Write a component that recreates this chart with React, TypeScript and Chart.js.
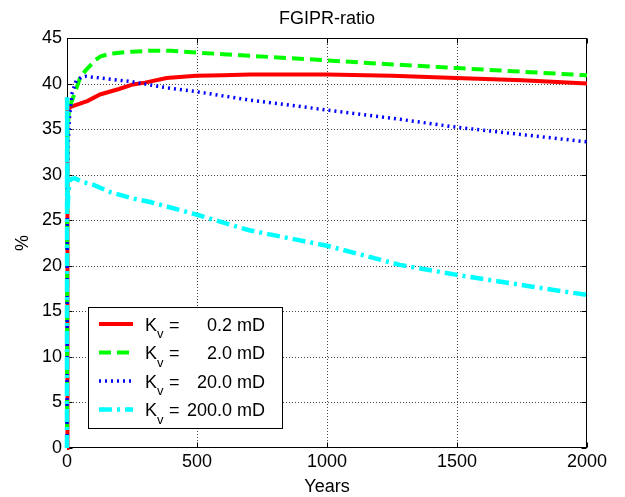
import React, { useEffect, useRef } from "react";
import { Chart, registerables } from "chart.js";

Chart.register(...registerables);

const TITLE = "FGIPR-ratio";
const X_LABEL = "Years";
const Y_LABEL = "%";

const tRed = [0, 0.5, 3, 12, 30, 50, 80, 127, 200, 254, 300, 383, 496, 600, 704, 850, 1000, 1250, 1496, 1750, 2000];
const vRed = [0, 30, 37, 37.4, 37.6, 37.8, 38.1, 38.8, 39.4, 39.9, 40.1, 40.6, 40.85, 40.9, 41.0, 41.0, 41.0, 40.85, 40.6, 40.35, 40.0];

const tGreen = [0, 1, 6, 15, 30, 50, 70, 90, 110, 130, 170, 250, 320, 400, 500, 700, 1000, 1250, 1500, 1750, 2000];
const vGreen = [0, 34, 36.5, 37.8, 39, 40.6, 41.4, 42.0, 42.6, 43.0, 43.3, 43.5, 43.6, 43.6, 43.4, 43.05, 42.55, 42.1, 41.7, 41.3, 40.9];

const tBlue = [0, 1, 4, 10, 20, 35, 55, 70, 100, 130, 250, 380, 500, 700, 1000, 1250, 1500, 1750, 2000];
const vBlue = [0, 30, 33, 36.5, 39, 40.3, 40.7, 40.8, 40.7, 40.6, 40.2, 39.55, 39.1, 38.2, 37.1, 36.2, 35.2, 34.4, 33.6];

const tCyan = [0, 0.5, 2, 5, 12, 30, 60, 100, 165, 250, 320, 500, 700, 1000, 1280, 1500, 1790, 2000];
const vCyan = [0, 38.5, 26, 28, 29.5, 29.6, 29.2, 28.9, 28.1, 27.4, 27.0, 25.6, 23.9, 22.2, 20.1, 19.0, 17.7, 16.8];

const legendValues = ["0.2 mD", "2.0 mD", "20.0 mD", "200.0 mD"];

const X_MIN = 0, X_MAX = 2000, X_STEP = 500;
const Y_MIN = 0, Y_MAX = 45, Y_STEP = 5;

const FONT = "'Liberation Sans', Arial, sans-serif";

const toPts = (t: number[], v: number[]) => t.map((x, i) => ({ x, y: v[i] }));

const series = [
  { t: tRed, v: vRed, color: "#ff0000", width: 4, dash: [] as number[] },
  { t: tGreen, v: vGreen, color: "#00ff00", width: 4, dash: [12, 6] },
  { t: tBlue, v: vBlue, color: "#0000ff", width: 3.5, dash: [2, 4] },
  { t: tCyan, v: vCyan, color: "#00ffff", width: 4.5, dash: [13, 5, 3, 5] },
];

const framePlugin = {
  id: "matlabFrame",
  beforeDatasetsDraw(chart: any) {
    const { ctx, chartArea } = chart;
    const { left, right, top, bottom } = chartArea;
    const xs = chart.scales.x;
    const ys = chart.scales.y;
    ctx.save();
    ctx.lineWidth = 1;
    ctx.strokeStyle = "#444";
    ctx.setLineDash([1, 2]);
    xs.ticks.forEach((tk: any) => {
      const px = Math.round(xs.getPixelForValue(tk.value)) + 0.5;
      if (px <= left + 1 || px >= right - 1) return;
      ctx.beginPath();
      ctx.moveTo(px, top);
      ctx.lineTo(px, bottom);
      ctx.stroke();
    });
    ys.ticks.forEach((tk: any) => {
      const py = Math.round(ys.getPixelForValue(tk.value)) + 0.5;
      if (py <= top + 1 || py >= bottom - 1) return;
      ctx.beginPath();
      ctx.moveTo(left, py);
      ctx.lineTo(right, py);
      ctx.stroke();
    });
    ctx.setLineDash([]);
    ctx.strokeStyle = "#000";
    const L = Math.round(left) + 0.5, R = Math.round(right) - 0.5;
    const T = Math.round(top) + 0.5, B = Math.round(bottom) - 0.5;
    ctx.strokeRect(L, T, R - L, B - T);
    const tl = 5;
    xs.ticks.forEach((tk: any) => {
      const px = Math.round(xs.getPixelForValue(tk.value)) + 0.5;
      ctx.beginPath();
      ctx.moveTo(px, B); ctx.lineTo(px, B - tl);
      ctx.moveTo(px, T); ctx.lineTo(px, T + tl);
      ctx.stroke();
    });
    ys.ticks.forEach((tk: any) => {
      const py = Math.round(ys.getPixelForValue(tk.value)) + 0.5;
      ctx.beginPath();
      ctx.moveTo(L, py); ctx.lineTo(L + tl, py);
      ctx.moveTo(R, py); ctx.lineTo(R - tl, py);
      ctx.stroke();
    });
    ctx.restore();
  },
  afterDatasetsDraw(chart: any) {
    const { ctx, chartArea } = chart;
    ctx.save();
    const bx = 88.5, by = 307.5, bw = 194, bh = 121;
    ctx.fillStyle = "#fff";
    ctx.fillRect(bx, by, bw, bh);
    ctx.strokeStyle = "#000";
    ctx.lineWidth = 1;
    ctx.setLineDash([]);
    ctx.strokeRect(bx, by, bw, bh);
    const rows = [324, 352.5, 381, 409.5];
    series.forEach((s, i) => {
      const y = rows[i];
      ctx.strokeStyle = s.color;
      ctx.lineWidth = s.width;
      ctx.setLineDash(s.dash);
      ctx.beginPath();
      ctx.moveTo(99, y);
      ctx.lineTo(133, y);
      ctx.stroke();
      ctx.setLineDash([]);
      ctx.fillStyle = "#000";
      ctx.textBaseline = "alphabetic";
      ctx.textAlign = "left";
      ctx.font = `18px ${FONT}`;
      ctx.fillText("K", 145, y + 6.5);
      ctx.font = `13px ${FONT}`;
      ctx.fillText("v", 157, y + 14);
      ctx.font = `18px ${FONT}`;
      ctx.fillText("=", 169, y + 6.5);
      ctx.textAlign = "right";
      ctx.fillText(legendValues[i], 265, y + 6.5);
    });
    ctx.fillStyle = "#000";
    ctx.font = `18px ${FONT}`;
    ctx.textAlign = "center";
    ctx.textBaseline = "alphabetic";
    const cx = (chartArea.left + chartArea.right) / 2;
    ctx.fillText(TITLE, cx, 24);
    ctx.fillText(X_LABEL, cx, 492);
    ctx.save();
    ctx.translate(28, (chartArea.top + chartArea.bottom) / 2);
    ctx.rotate(-Math.PI / 2);
    ctx.fillText(Y_LABEL, 0, 0);
    ctx.restore();
    ctx.restore();
  },
};

export default function App() {
  const ref = useRef<HTMLCanvasElement | null>(null);
  useEffect(() => {
    if (!ref.current) return;
    const chart = new Chart(ref.current, {
      type: "line",
      data: {
        datasets: series.map((s, i) => ({
          label: legendValues[i],
          data: toPts(s.t, s.v),
          borderColor: s.color,
          backgroundColor: s.color,
          borderWidth: s.width,
          borderDash: s.dash,
          pointRadius: 0,
          tension: 0,
          fill: false,
          clip: false as any,
          order: series.length - 1 - i,
        })),
      },
      options: {
        responsive: false,
        animation: false,
        layout: { padding: { top: 38, right: 38, left: 0, bottom: 0 } },
        plugins: { legend: { display: false }, title: { display: false }, tooltip: { enabled: false } },
        scales: {
          x: {
            type: "linear",
            min: X_MIN,
            max: X_MAX,
            ticks: {
              stepSize: X_STEP,
              color: "#000",
              font: { family: FONT, size: 18 },
              padding: 3,
              maxRotation: 0,
              callback: (v: any) => String(v),
            },
            grid: { display: false, drawTicks: false },
            border: { display: false },
            afterFit: (s: any) => { s.height = 49; },
          },
          y: {
            type: "linear",
            min: Y_MIN,
            max: Y_MAX,
            ticks: {
              stepSize: Y_STEP,
              color: "#000",
              font: { family: FONT, size: 18 },
              padding: 5,
              callback: (v: any) => String(v),
            },
            grid: { display: false, drawTicks: false },
            border: { display: false },
            afterFit: (s: any) => { s.width = 67; },
          },
        },
      },
      plugins: [framePlugin],
    });
    return () => chart.destroy();
  }, []);
  return (
    <canvas
      ref={ref}
      width={625}
      height={497}
      style={{ position: "absolute", left: 0, top: 0, width: 625, height: 497, display: "block", background: "#fff" }}
    />
  );
}
